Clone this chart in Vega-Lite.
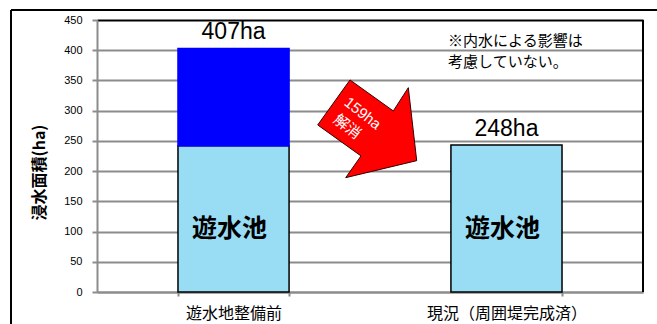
{
  "$schema": "https://vega.github.io/schema/vega-lite/v6.json",
  "width": 546,
  "height": 272,
  "autosize": "none",
  "padding": {"left": 97, "top": 20, "right": 14, "bottom": 32},
  "background": "white",
  "config": {
    "view": {"stroke": null},
    "font": "Liberation Sans, Noto Sans CJK JP",
    "axisY": {
      "tickCount": 10,
      "titleFont": "Noto Sans CJK JP", "titleFontSize": 16,
      "titleFontWeight": "bold", "titleColor": "black",
      "titlePadding": 16, "titleY": 152,
      "labelFont": "Liberation Sans", "labelFontSize": 11,
      "labelColor": "black", "labelPadding": 10, "labelOverlap": false,
      "domainColor": "#8c8c8c", "domainWidth": 2,
      "tickColor": "#8c8c8c", "tickWidth": 2, "tickSize": 5,
      "grid": true, "gridWidth": 2,
      "gridColor": {"condition": {"test": "datum.value === 450", "value": "black"}, "value": "#8c8c8c"}
    }
  },
  "datasets": {
    "bars": [
      {"cat": "遊水地整備前", "part": "遊水池", "low": 0, "high": 242},
      {"cat": "遊水地整備前", "part": "解消分", "low": 242, "high": 403},
      {"cat": "現況（周囲堤完成済）", "part": "遊水池", "low": 0, "high": 243}
    ],
    "totals": [
      {"cat": "遊水地整備前", "total": 403, "label": "407ha"},
      {"cat": "現況（周囲堤完成済）", "total": 243, "label": "248ha"}
    ],
    "pools": [
      {"cat": "遊水地整備前", "label": "遊水池"},
      {"cat": "現況（周囲堤完成済）", "label": "遊水池"}
    ],
    "frame": [
      {"x": -0.1575, "x2": 1.05, "y": 466.5, "y2": 466.5},
      {"x": -0.1575, "x2": -0.1575, "y": 466.5, "y2": -70},
      {"x": 1, "x2": 1, "y": 0, "y2": 450}
    ],
    "arrow": [{"x": 0.4949, "y": 270}],
    "arrowText": [
      {"x": 0.4866, "y": 295.7, "text": "159ha"},
      {"x": 0.4584, "y": 273.5, "text": "解消"}
    ],
    "notes": [
      {"x": 0.643, "y": 415.3, "text": "※内水による影響は"},
      {"x": 0.643, "y": 379.7, "text": "考慮していない。"}
    ]
  },
  "layer": [
    {
      "layer": [
        {
          "data": {"name": "bars"},
          "mark": {"type": "bar", "strokeWidth": 1.5},
          "encoding": {
            "x": {
              "field": "cat", "type": "nominal", "sort": null,
              "scale": {"paddingInner": 0.593, "paddingOuter": 0.2967},
              "axis": {
                "title": null, "labelAngle": 0, "labelFontSize": 16,
                "labelFont": "Noto Sans CJK JP", "labelColor": "black",
                "labelPadding": 9, "domainColor": "#8c8c8c", "domainWidth": 2,
                "tickColor": "#8c8c8c", "tickWidth": 2, "tickSize": 4,
                "tickBand": "extent", "grid": false
              }
            },
            "y": {
              "field": "low", "type": "quantitative",
              "scale": {"domain": [0, 450], "nice": false},
              "axis": {"title": "浸水面積(ha)", "values": [0, 50, 100, 150, 200, 250, 300, 350, 400, 450]}
            },
            "y2": {"field": "high"},
            "color": {
              "field": "part", "type": "nominal",
              "scale": {"domain": ["遊水池", "解消分"], "range": ["#99DDF5", "#0000FF"]},
              "legend": null
            },
            "stroke": {
              "field": "part", "type": "nominal",
              "scale": {"domain": ["遊水池", "解消分"], "range": ["#000000", "#0000FF"]},
              "legend": null
            }
          }
        },
        {
          "data": {"name": "totals"},
          "mark": {"type": "text", "fontSize": 23, "font": "Liberation Sans", "dy": -16, "baseline": "middle", "color": "black"},
          "encoding": {
            "x": {"field": "cat", "type": "nominal", "sort": null},
            "y": {"field": "total", "type": "quantitative", "scale": {"domain": [0, 450], "nice": false},
                  "axis": {"title": "浸水面積(ha)", "values": [0, 50, 100, 150, 200, 250, 300, 350, 400, 450]}},
            "text": {"field": "label"}
          }
        },
        {
          "data": {"name": "pools"},
          "mark": {"type": "text", "fontSize": 25, "fontWeight": "bold", "font": "Noto Sans CJK JP", "dx": -4, "baseline": "middle", "color": "black"},
          "encoding": {
            "x": {"field": "cat", "type": "nominal", "sort": null},
            "y": {"datum": 105, "type": "quantitative", "scale": {"domain": [0, 450], "nice": false},
                  "axis": {"title": "浸水面積(ha)", "values": [0, 50, 100, 150, 200, 250, 300, 350, 400, 450]}},
            "text": {"field": "label"}
          }
        }
      ]
    },
    {
      "layer": [
        {
          "data": {"name": "frame"},
          "mark": {"type": "rule", "color": "black", "strokeWidth": 2},
          "encoding": {
            "x": {"field": "x", "type": "quantitative", "scale": {"domain": [0, 1], "nice": false, "zero": false}, "axis": null},
            "x2": {"field": "x2"},
            "y": {"field": "y", "type": "quantitative", "scale": {"domain": [0, 450], "nice": false},
                  "axis": {"title": "浸水面積(ha)", "values": [0, 50, 100, 150, 200, 250, 300, 350, 400, 450]}},
            "y2": {"field": "y2"}
          }
        },
        {
          "data": {"name": "arrow"},
          "mark": {
            "type": "point", "filled": true, "fill": "#FF0000", "stroke": "#330000", "strokeWidth": 1,
            "opacity": 1, "fillOpacity": 1, "size": 10000,
            "shape": "M-0.344,-0.977L0.522,-0.357L0.822,-0.823L0.99,0.637L-0.43,0.977L-0.124,0.543L-0.99,-0.077Z"
          },
          "encoding": {
            "x": {"field": "x", "type": "quantitative", "scale": {"domain": [0, 1], "nice": false, "zero": false}, "axis": null},
            "y": {"field": "y", "type": "quantitative", "scale": {"domain": [0, 450], "nice": false},
                  "axis": {"title": "浸水面積(ha)", "values": [0, 50, 100, 150, 200, 250, 300, 350, 400, 450]}}
          }
        },
        {
          "data": {"name": "arrowText"},
          "mark": {"type": "text", "angle": 38, "fontSize": 15, "color": "white", "baseline": "middle", "font": "Liberation Sans, Noto Sans CJK JP"},
          "encoding": {
            "x": {"field": "x", "type": "quantitative", "scale": {"domain": [0, 1], "nice": false, "zero": false}, "axis": null},
            "y": {"field": "y", "type": "quantitative", "scale": {"domain": [0, 450], "nice": false},
                  "axis": {"title": "浸水面積(ha)", "values": [0, 50, 100, 150, 200, 250, 300, 350, 400, 450]}},
            "text": {"field": "text"}
          }
        },
        {
          "data": {"name": "notes"},
          "mark": {"type": "text", "align": "left", "baseline": "middle", "fontSize": 15, "font": "Noto Sans CJK JP", "color": "black"},
          "encoding": {
            "x": {"field": "x", "type": "quantitative", "scale": {"domain": [0, 1], "nice": false, "zero": false}, "axis": null},
            "y": {"field": "y", "type": "quantitative", "scale": {"domain": [0, 450], "nice": false},
                  "axis": {"title": "浸水面積(ha)", "values": [0, 50, 100, 150, 200, 250, 300, 350, 400, 450]}},
            "text": {"field": "text"}
          }
        }
      ]
    }
  ],
  "resolve": {"scale": {"x": "independent"}}
}
